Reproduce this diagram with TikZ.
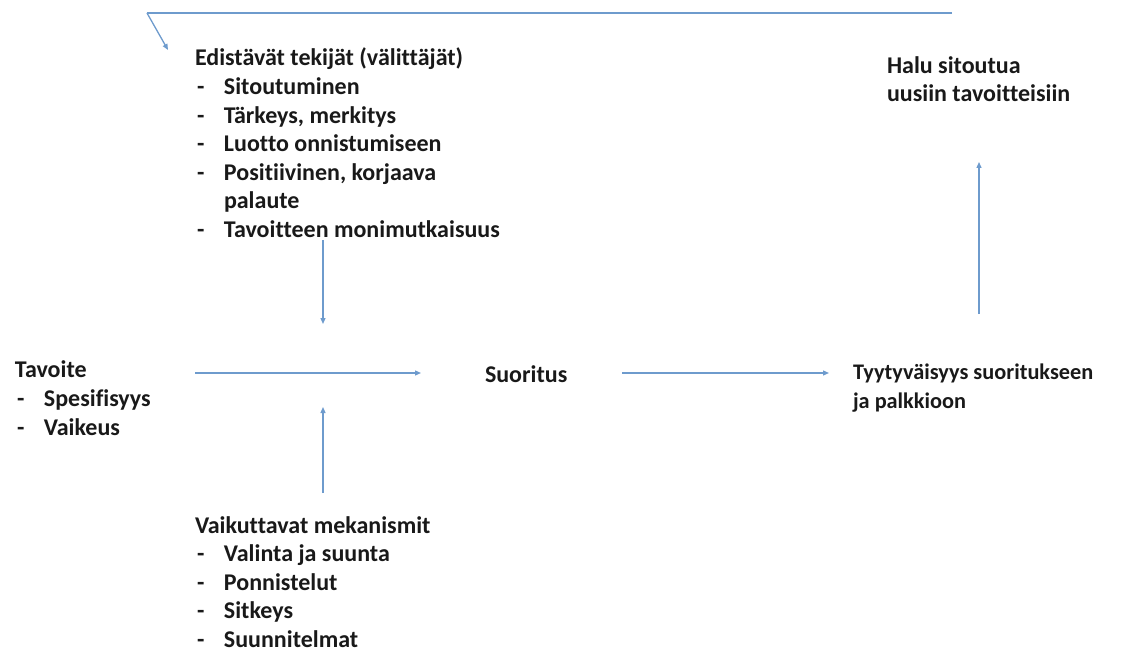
\documentclass[tikz,border=0pt]{standalone}
\usepackage{fontspec}
\setmainfont{Carlito}[Ligatures={NoCommon}]
\usetikzlibrary{arrows.meta}
\definecolor{linecol}{RGB}{110,155,205}
\definecolor{txtcol}{RGB}{25,25,25}
\newcommand{\dsh}{\makebox[29pt][l]{\hspace*{2pt}-}}
\tikzset{
  conn/.style={draw=linecol, line width=1.3pt, -{Triangle[length=6pt,width=5pt]}},
  plain/.style={draw=linecol, line width=1.3pt},
  lbl/.style={anchor=base west, inner sep=0pt, outer sep=0pt, text=txtcol, align=left,
    font=\fontsize{24}{28.6}\selectfont\bfseries}
}
\begin{document}
\begin{tikzpicture}[x=1pt,y=-1pt]
\useasboundingbox (0,0) rectangle (1144,650);
% text blocks (anchor = baseline of the last line)
\node[lbl] (edist) at (195,237.5) {Edistävät tekijät (välittäjät)\\
\dsh Sitoutuminen\\
\dsh Tärkeys, merkitys\\
\dsh Luotto onnistumiseen\\
\dsh Positiivinen, korjaava\\
\hspace*{29pt}palaute\\
\dsh Tavoitteen monimutkaisuus};
\node[lbl] (halu) at (887,102) {Halu sitoutua\\uusiin tavoitteisiin};
\node[lbl] (tav) at (15,435) {Tavoite\\
\dsh Spesifisyys\\
\dsh Vaikeus};
\node[lbl] (suor) at (485,382.5) {Suoritus};
\node[lbl, font=\fontsize{22.3}{28.8}\selectfont\bfseries] (tyyt) at (853,408.5) {Tyytyväisyys suoritukseen\\ja palkkioon};
\node[lbl] (vaik) at (195,647.5) {Vaikuttavat mekanismit\\
\dsh Valinta ja suunta\\
\dsh Ponnistelut\\
\dsh Sitkeys\\
\dsh Suunnitelmat};
% connector points
\coordinate (fbR) at (952,13);
\coordinate (fbL) at (147,13);
\coordinate (fbT) at (168,50);
\coordinate (edA) at (323,240);
\coordinate (edB) at (323,324);
\coordinate (vkA) at (323,493);
\coordinate (vkB) at (323,407);
\coordinate (tvA) at (195,373);
\coordinate (tvB) at (421,373);
\coordinate (suA) at (622,373);
\coordinate (suB) at (829,373);
\coordinate (tyA) at (979,314);
\coordinate (tyB) at (979,162);
% connectors
\draw[plain] (fbR) -- (fbL);
\draw[conn] (fbL) -- (fbT);
\draw[conn] (edA) -- (edB);
\draw[conn] (vkA) -- (vkB);
\draw[conn] (tvA) -- (tvB);
\draw[conn] (suA) -- (suB);
\draw[conn] (tyA) -- (tyB);
\end{tikzpicture}
\end{document}
